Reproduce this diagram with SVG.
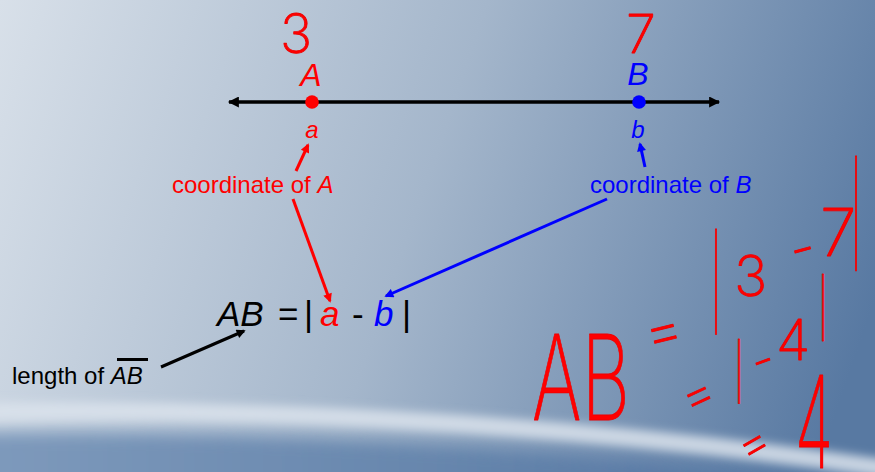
<svg xmlns="http://www.w3.org/2000/svg" width="875" height="472" viewBox="0 0 875 472">
  <defs>
    <linearGradient id="bg" x1="0" y1="0" x2="875" y2="300" gradientUnits="userSpaceOnUse">
      <stop offset="0" stop-color="#d8e0e9"/>
      <stop offset="0.5" stop-color="#a4b6cb"/>
      <stop offset="1" stop-color="#5879a2"/>
    </linearGradient>
    <linearGradient id="low" x1="0" y1="0" x2="875" y2="0" gradientUnits="userSpaceOnUse">
      <stop offset="0" stop-color="#7d99bb"/>
      <stop offset="0.6" stop-color="#6282aa"/>
      <stop offset="1" stop-color="#4f72a0"/>
    </linearGradient>
    <filter id="blur8" x="-20%" y="-50%" width="140%" height="200%"><feGaussianBlur stdDeviation="8"/></filter>
    <filter id="blur5" x="-20%" y="-50%" width="140%" height="200%"><feGaussianBlur stdDeviation="5"/></filter>
    <marker id="arrR" viewBox="0 0 10 10" refX="8" refY="5" markerWidth="11" markerHeight="9" markerUnits="userSpaceOnUse" orient="auto">
      <path d="M0,0 L10,5 L0,10 z" fill="#ff0000"/>
    </marker>
    <marker id="arrB" viewBox="0 0 10 10" refX="8" refY="5" markerWidth="11" markerHeight="9" markerUnits="userSpaceOnUse" orient="auto">
      <path d="M0,0 L10,5 L0,10 z" fill="#0000ff"/>
    </marker>
    <marker id="arrK" viewBox="0 0 10 10" refX="8" refY="5" markerWidth="11" markerHeight="9" markerUnits="userSpaceOnUse" orient="auto">
      <path d="M0,0 L10,5 L0,10 z" fill="#000000"/>
    </marker>
    <marker id="arrL" viewBox="0 0 10 10" refX="9" refY="5" markerWidth="13" markerHeight="11" markerUnits="userSpaceOnUse" orient="auto-start-reverse">
      <path d="M0,0 L10,5 L0,10 z" fill="#000000"/>
    </marker>
    <style>
      .t { font-family: "Liberation Sans", Arial, sans-serif; }
      .i { font-style: italic; }
      .red { fill: #ff0000; }
      .blue { fill: #0000ff; }
      .blk { fill: #000000; }
      .lbl { font-size: 24px; }
      .ink { font-family: Inter, "Noto Sans", sans-serif; font-weight: 200; fill: #ff0000; stroke: #ee0000; stroke-width: 0.8; stroke-linejoin: round; }
      .cr { stroke: #ff0000; stroke-width: 3; fill: none; }
      .cb { stroke: #0000ff; stroke-width: 3; fill: none; }
      .ck { stroke: #000000; stroke-width: 3; fill: none; }
    </style>
  </defs>

  <!-- background -->
  <rect x="0" y="0" width="875" height="472" fill="url(#bg)"/>
  <path d="M-40,432 Q450,428 920,492 L920,520 L-40,520 Z" fill="url(#low)" filter="url(#blur8)"/>
  <path d="M-30,412 Q450,404 910,472" fill="none" stroke="#dbe3ec" stroke-width="18" stroke-opacity="0.85" filter="url(#blur5)"/>

  <!-- number line -->
  <g id="numberline">
    <line x1="229" y1="102" x2="719" y2="102" stroke="#000" stroke-width="3.5" marker-start="url(#arrL)" marker-end="url(#arrL)"/>
  </g>
  <g id="pointA">
    <circle cx="312" cy="102" r="6.8" fill="#ff0000"/>
    <text class="t i red" x="311" y="86" font-size="32" text-anchor="middle">A</text>
    <text class="t i red" x="312" y="138" font-size="24" text-anchor="middle">a</text>
  </g>
  <g id="pointB">
    <circle cx="639" cy="102" r="6.8" fill="#0000ff"/>
    <text class="t i blue" x="638" y="85" font-size="32" text-anchor="middle">B</text>
    <text class="t i blue" x="638" y="138" font-size="24" text-anchor="middle">b</text>
  </g>

  <g id="coordA">
    <text class="t lbl red" x="172" y="193">coordinate of <tspan class="i">A</tspan></text>
  </g>
  <g id="coordB">
    <text class="t lbl blue" x="590" y="193">coordinate of <tspan class="i">B</tspan></text>
  </g>

  <g id="formula">
    <text class="t blk" font-size="35" y="326"><tspan class="i" x="217">AB</tspan><tspan x="278">=</tspan><tspan x="304">|</tspan><tspan class="i red" x="320">a</tspan><tspan x="352">-</tspan><tspan class="i blue" x="374">b</tspan><tspan x="402">|</tspan></text>
  </g>

  <g id="lengthAB">
    <text class="t lbl blk" x="12" y="384">length of <tspan class="i">AB</tspan></text>
    <line x1="117" y1="359.5" x2="148" y2="359.5" stroke="#000" stroke-width="3"/>
  </g>

  <!-- connectors -->
  <g id="connectors">
    <line class="cr" x1="296" y1="171" x2="308" y2="145" marker-end="url(#arrR)"/>
    <line class="cr" x1="293" y1="199" x2="330" y2="301" marker-end="url(#arrR)"/>
    <line class="cb" x1="645" y1="167" x2="640" y2="144" marker-end="url(#arrB)"/>
    <line class="cb" x1="607" y1="199" x2="386" y2="296" marker-end="url(#arrB)"/>
    <line class="ck" x1="161" y1="367" x2="244" y2="331" marker-end="url(#arrK)"/>
  </g>

  <!-- handwritten ink -->
  <g id="handwriting">
    <text class="ink" x="280" y="53" font-size="54">3</text>
    <text class="ink" x="626" y="53" font-size="54">7</text>

    <text class="ink" x="532" y="420" font-size="118" textLength="98" lengthAdjust="spacingAndGlyphs">AB</text>
    <text class="ink" x="663" y="351" font-size="60" text-anchor="middle" transform="rotate(-14 663 330)">=</text>

    <text class="ink" x="710" y="314" font-size="88" textLength="12" lengthAdjust="spacingAndGlyphs">|</text>
    <text class="ink" x="734" y="296" font-size="56">3</text>
    <text class="ink" x="790" y="268" font-size="56" transform="rotate(-15 800 250)">-</text>
    <text class="ink" x="820" y="256" font-size="66">7</text>
    <text class="ink" x="850" y="248" font-size="96" textLength="12" lengthAdjust="spacingAndGlyphs">|</text>

    <text class="ink" x="697" y="412" font-size="52" text-anchor="middle" transform="rotate(-25 697 393)">=</text>
    <text class="ink" x="734" y="391" font-size="54" textLength="10" lengthAdjust="spacingAndGlyphs">|</text>
    <text class="ink" x="751" y="378" font-size="50" transform="rotate(-20 760 360)">-</text>
    <text class="ink" x="776" y="360" font-size="56">4</text>
    <text class="ink" x="818" y="328" font-size="56" textLength="10" lengthAdjust="spacingAndGlyphs">|</text>

    <text class="ink" x="753" y="460" font-size="50" text-anchor="middle" transform="rotate(-30 753 443)">=</text>
    <text class="ink" x="795" y="468" font-size="128" textLength="38" lengthAdjust="spacingAndGlyphs">4</text>
  </g>
</svg>
